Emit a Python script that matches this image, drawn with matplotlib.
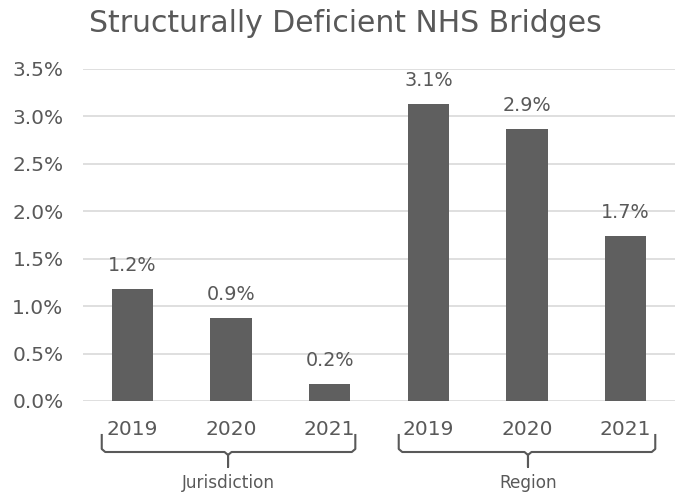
import matplotlib
matplotlib.use("Agg")
import matplotlib.pyplot as plt
from matplotlib.transforms import blended_transform_factory
from matplotlib.ticker import FuncFormatter

groups = ["Jurisdiction", "Region"]
years = ["2019", "2020", "2021", "2019", "2020", "2021"]
values = [0.0118, 0.0088, 0.0018, 0.0313, 0.0287, 0.0174]
labels = ["1.2%", "0.9%", "0.2%", "3.1%", "2.9%", "1.7%"]

W, H = 686, 492
plt.rcParams['font.family'] = ['DejaVu Sans']
fig = plt.figure(figsize=(W / 100, H / 100), dpi=100)
txt = "#595959"
ax = fig.add_axes([83 / W, 1 - 401 / H, (675 - 83) / W, (401 - 69) / H])

x = list(range(len(values)))
bars = ax.bar(x, values, width=0.42, color="#5f5f5f", zorder=3)
ax.bar_label(bars, labels=labels, padding=10, fontsize=13.8, color=txt)

ax.set_xlim(-0.5, 5.5)
ax.set_ylim(0, 0.035)
ax.set_yticks([i * 0.005 for i in range(8)])
ax.yaxis.set_major_formatter(FuncFormatter(lambda v, p: f"{v*100:.1f}%"))
ax.grid(axis="y", color="#d9d9d9", linewidth=1.2, zorder=0)
ax.set_axisbelow(True)
for s in ax.spines.values():
    s.set_visible(False)
ax.tick_params(axis="y", length=0, pad=14, labelsize=14.5, labelcolor=txt)
ax.set_xticks(x)
ax.set_xticklabels(years)
ax.tick_params(axis="x", length=0, pad=14, labelsize=14.5, labelcolor=txt)

tr = blended_transform_factory(ax.transData, fig.transFigure)
def fy(p):
    return 1 - p / H
d = 3.5 / 98.67
for (x0, xc, x1), name in zip([(-0.31, 0.97, 2.26), (2.70, 4.01, 5.30)], groups):
    xs = [x0, x0, x0 + d, xc - d, xc, xc, xc, xc + d, x1 - d, x1, x1]
    ys = [435, 449, 452, 452, 455, 467, 455, 452, 452, 449, 435]
    ax.plot(xs, [fy(v) for v in ys], transform=tr, color=txt, lw=1.5,
            clip_on=False, solid_joinstyle="round")
    ax.text(xc, fy(483), name, transform=tr, ha="center", va="center",
            fontsize=12.2, color=txt)

fig.text(345 / W, fy(24), "Structurally Deficient NHS Bridges", ha="center",
         va="center", fontsize=21.5, color=txt)

fig.savefig("out.png", dpi=100)
